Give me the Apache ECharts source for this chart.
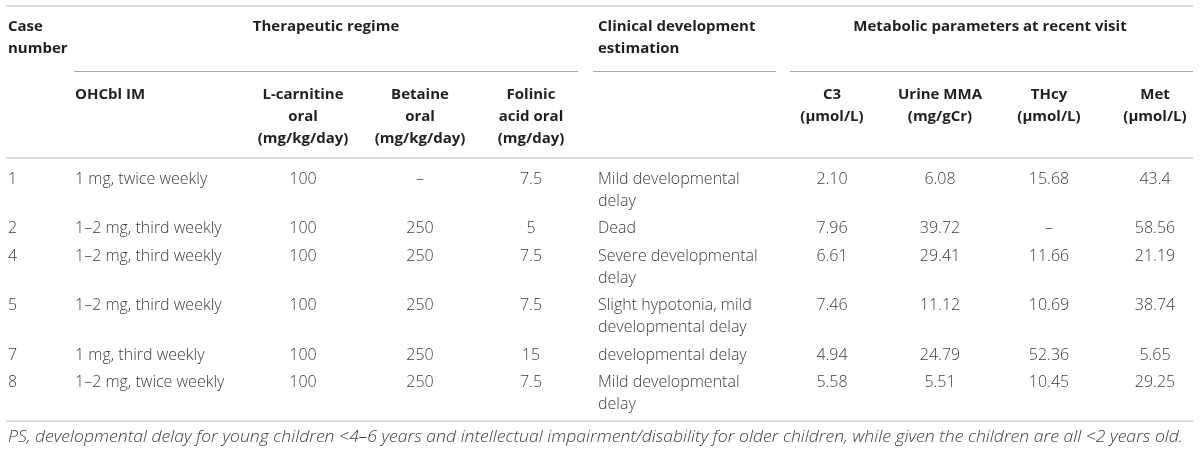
<!DOCTYPE html>
<html>
<head>
<meta charset="utf-8">
<script src="https://cdn.jsdelivr.net/npm/echarts@6/dist/echarts.min.js"></script>
<style>
  html, body { margin: 0; padding: 0; background: #fff; }
  #main { width: 1200px; height: 452px; }
</style>
</head>
<body>
<div id="main"></div>
<script>
// table content
var groupHeaders = ['Case\nnumber', 'Therapeutic regime', 'Clinical development\nestimation', 'Metabolic parameters at recent visit'];
var columnHeaders = ['', 'OHCbl IM', 'L-carnitine\noral\n(mg/kg/day)', 'Betaine\noral\n(mg/kg/day)', 'Folinic\nacid oral\n(mg/day)', '',
    'C3\n(\u03bcmol/L)', 'Urine MMA\n(mg/gCr)', 'THcy\n(\u03bcmol/L)', 'Met\n(\u03bcmol/L)'];
var caseNumbers = ['1', '2', '4', '5', '7', '8'];
var ohcblIM = ['1 mg, twice weekly', '1\u20132 mg, third weekly', '1\u20132 mg, third weekly', '1\u20132 mg, third weekly', '1 mg, third weekly', '1\u20132 mg, twice weekly'];
var lCarnitine = ['100', '100', '100', '100', '100', '100'];
var betaine = ['\u2013', '250', '250', '250', '250', '250'];
var folinicAcid = ['7.5', '5', '7.5', '7.5', '15', '7.5'];
var clinicalEstimation = ['Mild developmental\ndelay', 'Dead', 'Severe developmental\ndelay', 'Slight hypotonia, mild\ndevelopmental delay', 'developmental delay', 'Mild developmental\ndelay'];
var c3 = ['2.10', '7.96', '6.61', '7.46', '4.94', '5.58'];
var urineMMA = ['6.08', '39.72', '29.41', '11.12', '24.79', '5.51'];
var thcy = ['15.68', '\u2013', '11.66', '10.69', '52.36', '10.45'];
var met = ['43.4', '58.56', '21.19', '38.74', '5.65', '29.25'];
var footnote = 'PS, developmental delay for young children <4\u20136 years and intellectual impairment/disability for older children, while given the children are all <2 years old.';

var columns = [caseNumbers, ohcblIM, lCarnitine, betaine, folinicAcid, clinicalEstimation, c3, urineMMA, thcy, met];

// layout: anchor x and alignment of each column
var colX = [8, 75, 303, 420, 531, 598, 832, 940, 1049, 1155];
var colAlign = ['left', 'left', 'center', 'center', 'center', 'left', 'center', 'center', 'center', 'center'];
var groupX = [8, 326, 598, 990];
var groupAlign = ['left', 'center', 'left', 'center'];
var lineH = 22;

var headColor = '#231f20';
var bodyColor = '#3c3c3c';
var fontFamily = '"Open Sans", "Liberation Sans", sans-serif';

var cells = [];
function addCell(x, y, text, align, kind) {
    cells.push({x: x, y: y, text: text, align: align, kind: kind});
}

for (var g = 0; g < groupHeaders.length; g++) {
    addCell(groupX[g], 27, groupHeaders[g], groupAlign[g], 'head');
}
for (var c = 0; c < columnHeaders.length; c++) {
    if (columnHeaders[c]) addCell(colX[c], 95, columnHeaders[c], colAlign[c], 'head');
}
var rowY = 179;
for (var r = 0; r < caseNumbers.length; r++) {
    var nLines = 1;
    for (var k = 0; k < columns.length; k++) {
        addCell(colX[k], rowY, columns[k][r], colAlign[k], 'body');
        nLines = Math.max(nLines, columns[k][r].split('\n').length);
    }
    rowY += nLines * lineH + 5.5;
}
addCell(8, 437, footnote, 'left', 'note');

var textStyles = {
    head: {fontSize: 15, fontWeight: 'bold', fontStyle: 'normal', fill: headColor, scaleX: 1},
    body: {fontSize: 16, fontWeight: 300, fontStyle: 'normal', fill: bodyColor, scaleX: 1},
    note: {fontSize: 16, fontWeight: 300, fontStyle: 'italic', fill: bodyColor, scaleX: 1.1}
};

// horizontal rules: [x1, x2, y, width, color]
var rules = [
    [6, 1193, 6, 2, '#dcdcdc'],
    [74, 578, 71.5, 1.2, '#aaaaaa'],
    [593, 776, 71.5, 1.2, '#aaaaaa'],
    [790, 1193, 71.5, 1.2, '#aaaaaa'],
    [6, 1193, 158, 2, '#dcdcdc'],
    [6, 1193, 421, 2, '#dcdcdc']
];

var chart = echarts.init(document.getElementById('main'), null, {renderer: 'canvas'});
var option = {
    animation: false,
    grid: {left: 0, right: 0, top: 0, bottom: 0},
    xAxis: {type: 'value', min: 0, max: 1200, show: false},
    yAxis: {type: 'value', min: 0, max: 452, inverse: true, show: false},
    series: [{
        type: 'custom',
        clip: false,
        data: rules.map(function (d) { return [d[0], d[2], d[1]]; }),
        renderItem: function (params, api) {
            var d = rules[params.dataIndex];
            var p1 = api.coord([api.value(0), api.value(1)]);
            var p2 = api.coord([api.value(2), api.value(1)]);
            return {
                type: 'line',
                shape: {x1: p1[0], y1: p1[1], x2: p2[0], y2: p2[1]},
                style: {stroke: d[4], lineWidth: d[3]}
            };
        }
    }, {
        type: 'custom',
        clip: false,
        data: cells.map(function (d) { return [d.x, d.y]; }),
        renderItem: function (params, api) {
            var d = cells[params.dataIndex];
            var s = textStyles[d.kind];
            var p = api.coord([api.value(0), api.value(1)]);
            return {
                type: 'text',
                x: p[0],
                y: p[1] - lineH / 2,
                scaleX: s.scaleX,
                style: {
                    text: d.text,
                    align: d.align,
                    verticalAlign: 'top',
                    lineHeight: lineH,
                    fontSize: s.fontSize,
                    fontFamily: fontFamily,
                    fontWeight: s.fontWeight,
                    fontStyle: s.fontStyle,
                    fill: s.fill
                }
            };
        }
    }]
};
chart.setOption(option);
</script>
</body>
</html>
